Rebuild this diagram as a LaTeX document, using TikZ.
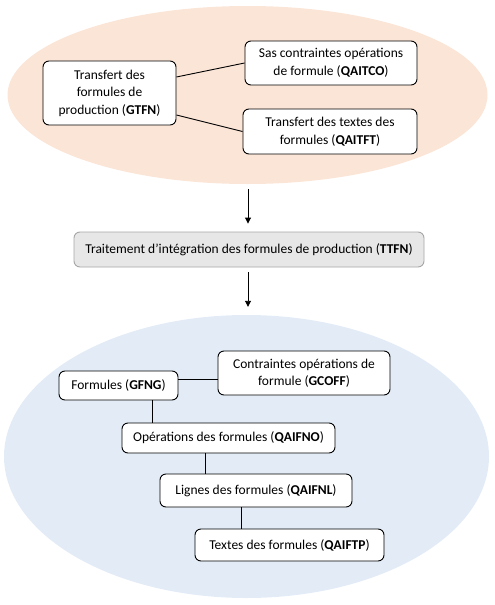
\documentclass[tikz,border=0pt]{standalone}
\usepackage{fontspec}
\setmainfont{Carlito}
\usetikzlibrary{shapes.geometric,arrows.meta}
\definecolor{peach}{HTML}{FBE5D6}
\definecolor{paleblue}{HTML}{E3ECF6}
\definecolor{boxgray}{HTML}{E7E7E7}
\tikzset{
  box/.style={draw=black, line width=0.9pt, fill=white, rounded corners=6pt, align=center,
    inner sep=0pt, font=\fontsize{13.5}{17.5}\selectfont},
  graybox/.style={box, draw=gray!70, fill=boxgray},
  blob/.style={ellipse, draw=none, inner sep=0pt},
  link/.style={line width=0.9pt},
  flow/.style={line width=0.9pt, -{Triangle[width=6pt,length=6pt]}}
}
\begin{document}
\begin{tikzpicture}[x=1pt,y=-1pt]
\useasboundingbox (0,0) rectangle (495,605);
% ellipses
\node[blob, fill=peach, minimum width=480, minimum height=178] (topE) at (247.5,95) {};
\node[blob, fill=paleblue, minimum width=485, minimum height=283] (botE) at (246.5,456.5) {};
% top group
\node[box, minimum width=133, minimum height=64] (gtfn) at (109.5,93) {Transfert des\\formules de\\production (\textbf{GTFN})};
\node[box, minimum width=172, minimum height=44] (qaitco) at (331,63) {Sas contraintes opérations\\de formule (\textbf{QAITCO})};
\node[box, minimum width=174, minimum height=45] (qaitft) at (330,131.5) {Transfert des textes des\\formules (\textbf{QAITFT})};
\draw[link] ([yshift=16]gtfn.east) -- (qaitco.west);
\draw[link] ([yshift=-22]gtfn.east) -- (qaitft.west);
% middle
\node[graybox, minimum width=350, minimum height=35] (ttfn) at (249,249.5) {Traitement d’intégration des formules de production (\textbf{TTFN})};
\draw[flow] ([xshift=0.5,yshift=-5]topE.south) -- ([xshift=-1,yshift=8]ttfn.north);
\draw[flow] ([xshift=-1,yshift=-5]ttfn.south) -- ([xshift=1.5,yshift=8]botE.north);
% bottom group
\node[box, minimum width=119, minimum height=29] (gfng) at (118.5,385.5) {Formules (\textbf{GFNG})};
\node[box, minimum width=172, minimum height=44] (gcoff) at (304,373) {Contraintes opérations de\\formule (\textbf{GCOFF})};
\node[box, minimum width=213, minimum height=30] (qaifno) at (228.5,438) {Opérations des formules (\textbf{QAIFNO})};
\node[box, minimum width=192, minimum height=33] (qaifnl) at (256,490.5) {Lignes des formules (\textbf{QAIFNL})};
\node[box, minimum width=189, minimum height=32] (qaiftp) at (289.5,545) {Textes des formules (\textbf{QAIFTP})};
\draw[link] ([yshift=6.5]gfng.east) -- ([yshift=6.5]gfng.east -| gcoff.west);
\draw[link] ([xshift=33.5]gfng.south) -- ([xshift=33.5]gfng.south |- qaifno.north);
\draw[link] ([xshift=-23.5]qaifno.south) -- ([xshift=-23.5]qaifno.south |- qaifnl.north);
\draw[link] ([xshift=-15]qaifnl.south) -- ([xshift=-15]qaifnl.south |- qaiftp.north);
\end{tikzpicture}
\end{document}
